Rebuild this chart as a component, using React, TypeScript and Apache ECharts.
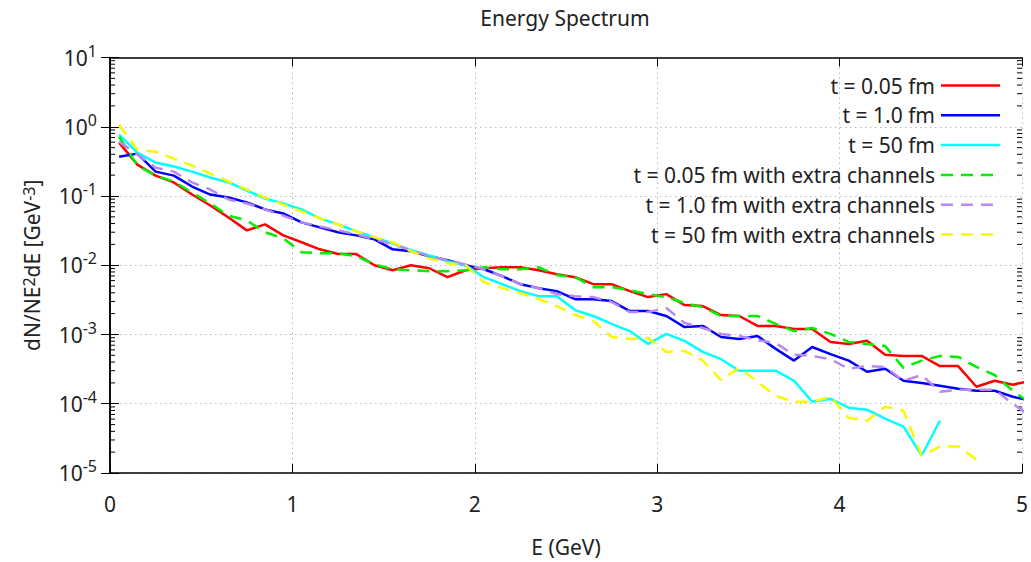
import React, { useEffect, useRef } from "react";
import * as echarts from "echarts";

// Bin centres (GeV)
const energies = [
  0.05, 0.15, 0.25, 0.35, 0.45, 0.55, 0.65, 0.75, 0.85, 0.95,
  1.05, 1.15, 1.25, 1.35, 1.45, 1.55, 1.65, 1.75, 1.85, 1.95,
  2.05, 2.15, 2.25, 2.35, 2.45, 2.55, 2.65, 2.75, 2.85, 2.95,
  3.05, 3.15, 3.25, 3.35, 3.45, 3.55, 3.65, 3.75, 3.85, 3.95,
  4.05, 4.15, 4.25, 4.35, 4.45, 4.55, 4.65, 4.75, 4.85, 4.95, 5.05,
];

const t005 = [
  0.589, 0.284, 0.197, 0.157, 0.105, 0.073, 0.049, 0.0319, 0.039, 0.027,
  0.0215, 0.017, 0.0145, 0.0145, 0.01, 0.00847, 0.01, 0.00905, 0.00672, 0.00847,
  0.00905, 0.00936, 0.00936, 0.00847, 0.00742, 0.00672, 0.00533, 0.00533, 0.00423, 0.00347,
  0.00383, 0.00266, 0.00257, 0.00191, 0.00185, 0.00133, 0.00133, 0.0012, 0.0012, 0.00078,
  0.00073, 0.00081, 0.00051, 0.00049, 0.00049, 0.00035, 0.00035, 0.000176, 0.000215, 0.000188, 0.000215,
];

const t10 = [
  0.37, 0.409, 0.225, 0.197, 0.137, 0.105, 0.095, 0.081, 0.064, 0.056,
  0.0416, 0.0352, 0.0299, 0.027, 0.0237, 0.017, 0.0159, 0.0135, 0.0118, 0.01,
  0.00876, 0.00695, 0.00533, 0.00467, 0.00423, 0.00324, 0.00324, 0.00304, 0.00218, 0.00218,
  0.00185, 0.00128, 0.00133, 0.00092, 0.00086, 0.00095, 0.00062, 0.00042, 0.00066, 0.00052,
  0.00042, 0.00029, 0.00032, 0.000215, 0.0002, 0.000182, 0.000165, 0.000154, 0.000154, 0.000126, 0.00011,
];

const t50 = [
  0.767, 0.423, 0.304, 0.266, 0.225, 0.185, 0.157, 0.12, 0.092, 0.078,
  0.064, 0.0475, 0.039, 0.031, 0.0253, 0.0207, 0.0165, 0.0139, 0.0114, 0.01,
  0.00672, 0.00533, 0.00423, 0.00358, 0.00358, 0.00225, 0.00185, 0.00142, 0.00112, 0.00073,
  0.00102, 0.00081, 0.00056, 0.00044, 0.0003, 0.0003, 0.0003, 0.000215, 0.000107, 0.000118,
  0.0000876, 0.000082, 0.0000608, 0.0000467, 0.0000179, 0.0000569,
];

const t005x = [
  0.718, 0.275, 0.197, 0.162, 0.112, 0.078, 0.052, 0.0444, 0.0299, 0.0245,
  0.0154, 0.0149, 0.0149, 0.0135, 0.0103, 0.00876, 0.00847, 0.0082, 0.0082, 0.00847,
  0.00936, 0.00876, 0.00876, 0.00936, 0.00718, 0.00672, 0.00482, 0.00482, 0.00437, 0.00383,
  0.00347, 0.00284, 0.00249, 0.00185, 0.00185, 0.00185, 0.00142, 0.00112, 0.00124, 0.00102,
  0.00078, 0.00073, 0.00068, 0.00033, 0.00042, 0.00049, 0.000475, 0.00034, 0.00026, 0.000154, 0.0001,
];

const t10x = [
  0.608, 0.396, 0.257, 0.225, 0.157, 0.124, 0.089, 0.078, 0.064, 0.052,
  0.0416, 0.0364, 0.0319, 0.028, 0.0237, 0.02, 0.0165, 0.0135, 0.0118, 0.0103,
  0.00876, 0.00695, 0.00533, 0.00467, 0.00383, 0.00358, 0.00347, 0.00294, 0.00211, 0.00211,
  0.00241, 0.00147, 0.00124, 0.00102, 0.00095, 0.00083, 0.00075, 0.00051, 0.00049, 0.00044,
  0.00032, 0.00035, 0.00034, 0.000215, 0.00026, 0.000149, 0.000159, 0.000159, 0.000159, 0.0001, 0.000065,
];

const t50x = [
  1.07, 0.467, 0.437, 0.347, 0.275, 0.211, 0.162, 0.124, 0.095, 0.075,
  0.06, 0.0475, 0.039, 0.031, 0.0253, 0.0215, 0.0159, 0.0126, 0.0107, 0.01,
  0.00569, 0.00467, 0.00396, 0.00324, 0.00257, 0.00191, 0.00157, 0.00092, 0.00086, 0.00089,
  0.00056, 0.00058, 0.00042, 0.00022, 0.00033, 0.000207, 0.00013, 0.000107, 0.000107, 0.000126,
  0.0000629, 0.0000569, 0.0000905, 0.0000793, 0.0000179, 0.0000241, 0.0000241, 0.0000157,
];

const seriesNames = [
  "t = 0.05 fm",
  "t = 1.0 fm",
  "t = 50 fm",
  "t = 0.05 fm with extra channels",
  "t = 1.0 fm with extra channels",
  "t = 50 fm with extra channels",
];
const seriesValues = [t005, t10, t50, t005x, t10x, t50x];

const xTicks = [0, 1, 2, 3, 4, 5];
const decadeExponents = [-5, -4, -3, -2, -1, 0];
const minorMultipliers = [2, 3, 4, 5, 6, 7, 8, 9];

// styles
const seriesColors = ["#ff0000", "#0000ff", "#00ffff", "#00ee00", "#bb88f0", "#f8f800"];
const seriesDashed = [false, false, false, true, true, true];

const FONT = "'Noto Sans', 'DejaVu Sans', sans-serif";
const FS = 21;
const SUP = 16;
const W = 1031;
const H = 562;
const GRID = { left: 110, right: 9, top: 57.5, bottom: 87.5 };

export default function App() {
  const ref = useRef<HTMLDivElement>(null);

  useEffect(() => {
    document.body.style.margin = "0";
    if (!ref.current) return;
    const chart = echarts.init(ref.current, undefined, { renderer: "svg" });

    const minorTicks: number[] = [];
    decadeExponents.forEach((e) =>
      minorMultipliers.forEach((m) => minorTicks.push(m * Math.pow(10, e)))
    );

    const supRich = {
      b: { fontSize: FS, fontFamily: FONT, color: "#222", lineHeight: 30 },
      s: { fontSize: SUP, fontFamily: FONT, color: "#222", lineHeight: 16, verticalAlign: "top" as const },
    };

    const expLabel = (v: number) => {
      const e = Math.round(Math.log10(v));
      return `{b|10}{s|${e}}`;
    };

    const axisLineStyle = { color: "#000", width: 1.5 };
    const gridLine = { show: true, lineStyle: { color: "#b8b8b8", width: 1, type: [1.5, 3.5] as any } };

    const lineSeries = seriesValues.map((vals, i) => ({
      name: seriesNames[i],
      type: "line" as const,
      symbol: "none",
      data: vals.map((v, j) => [energies[j], v]),
      lineStyle: {
        color: seriesColors[i],
        width: 2.5,
        type: seriesDashed[i] ? ([12, 8] as any) : "solid",
      },
      itemStyle: { color: seriesColors[i] },
      clip: true,
      z: 3 + i,
    }));

    const legendTop = 85.5;
    const legendStep = 29.8;
    const legendGraphics: any[] = [];
    seriesNames.forEach((name, i) => {
      const y = legendTop + i * legendStep;
      legendGraphics.push({
        type: "text",
        x: 935,
        y,
        style: {
          text: name,
          textAlign: "right",
          textVerticalAlign: "middle",
          font: `${FS}px ${FONT}`,
          fill: "#222",
        },
        z: 100,
      });
      legendGraphics.push({
        type: "line",
        shape: { x1: 941, y1: y, x2: 1000, y2: y },
        style: {
          stroke: seriesColors[i],
          lineWidth: 2.5,
          lineDash: seriesDashed[i] ? [12, 8] : null,
        },
        z: 100,
      });
    });

    chart.setOption({
      animation: false,
      grid: { ...GRID, containLabel: false },
      graphic: [
        {
          type: "text",
          x: 565,
          y: 18,
          style: {
            text: "Energy Spectrum",
            textAlign: "center",
            textVerticalAlign: "middle",
            font: `${FS}px ${FONT}`,
            fill: "#222",
          },
        },
        ...legendGraphics,
      ],
      xAxis: [
        {
          type: "value",
          min: 0,
          max: 5,
          interval: 1,
          position: "bottom",
          name: "E (GeV)",
          nameLocation: "middle",
          nameGap: 63,
          nameTextStyle: { fontSize: FS, fontFamily: FONT, color: "#222" },
          axisLine: { show: true, lineStyle: axisLineStyle },
          axisTick: { show: true, inside: true, length: 9, lineStyle: { color: "#000", width: 1 } },
          axisLabel: {
            fontSize: FS,
            fontFamily: FONT,
            color: "#222",
            margin: 20,
            formatter: (v: number) => (xTicks.includes(v) ? String(v) : ""),
          },
          splitLine: gridLine,
        },
        {
          type: "value",
          min: 0,
          max: 5,
          interval: 1,
          position: "top",
          axisLine: { show: true, lineStyle: axisLineStyle },
          axisTick: { show: true, inside: true, length: 9, lineStyle: { color: "#000", width: 1 } },
          axisLabel: { show: false },
          splitLine: { show: false },
        },
      ],
      yAxis: [
        {
          type: "log",
          logBase: 10,
          min: 1e-5,
          max: 10,
          splitNumber: 6,
          position: "left",
          name: "dN/NE{s|2}dE [GeV{s|-3}]",
          nameLocation: "middle",
          nameRotate: 90,
          nameGap: 68,
          nameTextStyle: {
            fontSize: FS,
            fontFamily: FONT,
            color: "#222",
            rich: {
              s: { fontSize: SUP, fontFamily: FONT, color: "#222", lineHeight: 16, verticalAlign: "top" },
            },
          },
          axisLine: { show: true, lineStyle: axisLineStyle },
          axisTick: { show: true, inside: true, length: 9, lineStyle: { color: "#000", width: 1 } },
          axisLabel: {
            margin: 13,
            formatter: expLabel,
            rich: supRich,
          },
          splitLine: gridLine,
        },
        {
          type: "log",
          logBase: 10,
          min: 1e-5,
          max: 10,
          splitNumber: 6,
          position: "right",
          axisLine: { show: true, lineStyle: axisLineStyle },
          axisTick: { show: true, inside: true, length: 9, lineStyle: { color: "#000", width: 1 } },
          axisLabel: { show: false },
          splitLine: { show: false },
        },
      ],
      series: [
        {
          type: "custom",
          silent: true,
          clip: false,
          xAxisIndex: 0,
          yAxisIndex: 0,
          data: minorTicks.map((v) => [0, v]),
          renderItem: (_params: any, api: any) => {
            const v = api.value(1);
            const l = api.coord([0, v]);
            const r = api.coord([5, v]);
            return {
              type: "group",
              children: [
                { type: "line", shape: { x1: l[0], y1: l[1], x2: l[0] + 5, y2: l[1] }, style: { stroke: "#000", lineWidth: 1 } },
                { type: "line", shape: { x1: r[0] - 5, y1: r[1], x2: r[0], y2: r[1] }, style: { stroke: "#000", lineWidth: 1 } },
              ],
            };
          },
          z: 2,
        },
        ...lineSeries,
      ],
    });

    return () => chart.dispose();
  }, []);

  return (
    <div
      ref={ref}
      style={{ position: "fixed", left: 0, top: 0, width: W, height: H, background: "#fff" }}
    />
  );
}
